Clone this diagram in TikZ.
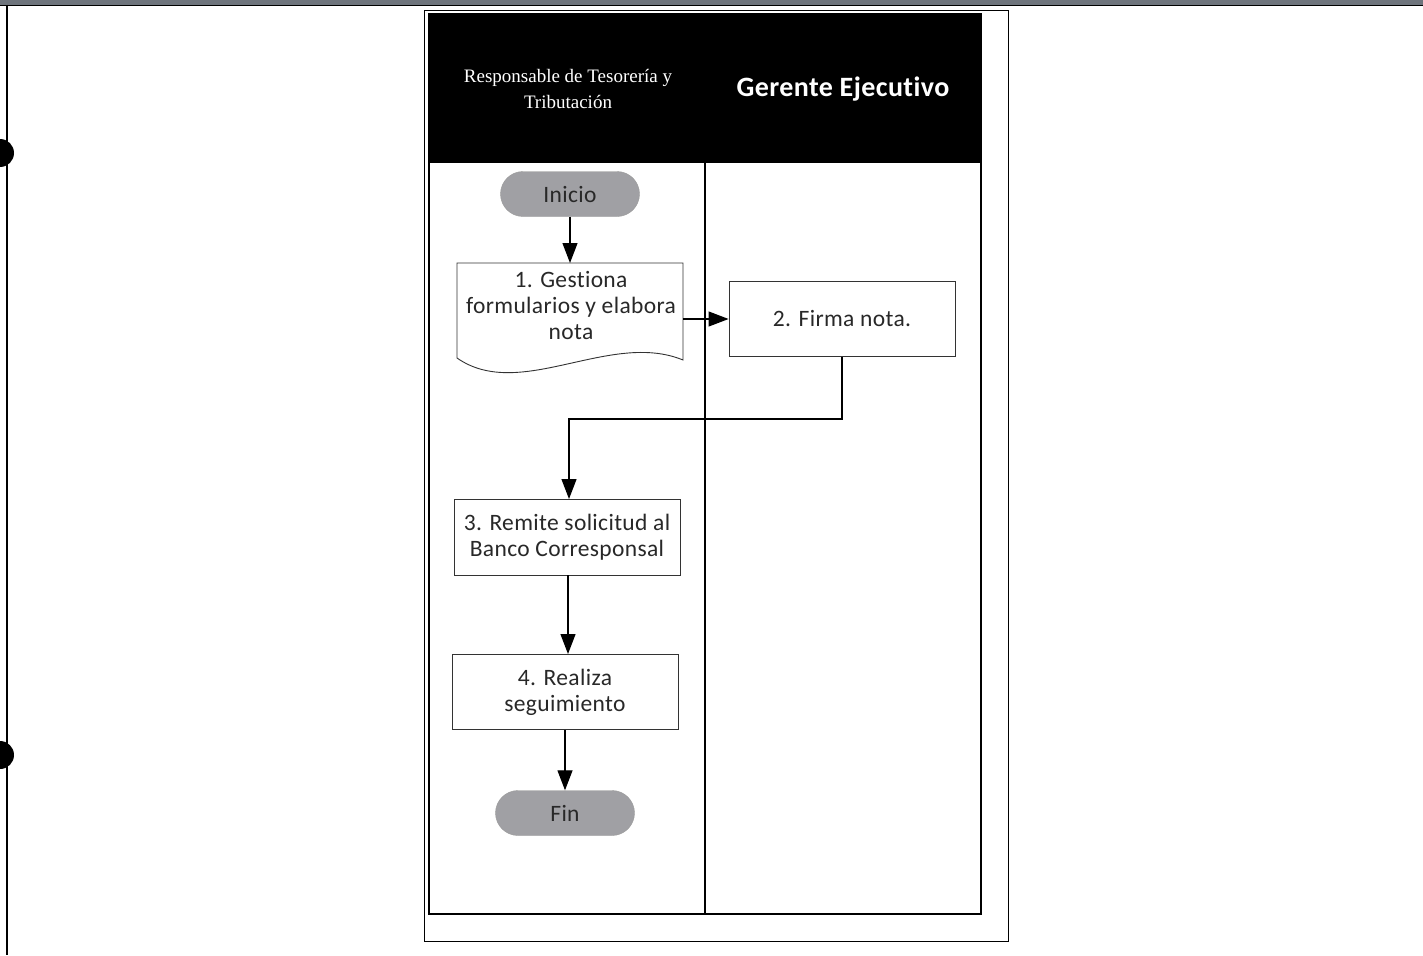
\documentclass[tikz,border=0pt]{standalone}
\usepackage{fontspec}
\setmainfont{Liberation Serif}
\newfontfamily\calib[Ligatures=NoCommon,LetterSpace=1.5]{Carlito}
\usetikzlibrary{arrows.meta,shapes.misc}
\definecolor{termgray}{RGB}{160,160,164}
\definecolor{bandgray}{RGB}{110,116,124}
\definecolor{inkgray}{RGB}{40,40,40}
\begin{document}
\begin{tikzpicture}[x=1pt,y=-1pt,
  proc/.style={draw=black!80,line width=0.9pt,fill=white,minimum width=226pt,minimum height=75pt,
    align=center,text=inkgray,font=\calib\fontsize{23.5}{26}\selectfont,inner sep=2pt},
  term/.style={rounded rectangle,draw=black!40,fill=termgray,minimum width=139pt,minimum height=45pt,
    text=inkgray,font=\calib\fontsize{23.5}{26}\selectfont,inner sep=0pt},
  flow/.style={line width=1.2pt,-{Triangle[length=20pt,width=15pt]}},
  frame/.style={draw=black,line width=1.1pt}]
\useasboundingbox (0,0) rectangle (1423,955);
\fill[white] (0,0) rectangle (1423,955);
% page header band and left margin rule
\fill[bandgray] (0,0) rectangle (1423,5);
\draw[line width=1.5pt] (0,5.5) -- (1423,5.5);
\draw[line width=1.5pt] (7,5) -- (7,955);
% punch holes
\fill (0,153) circle (14);
\fill (0,755) circle (14);
% outer and inner frames
\draw[frame,line width=0.9pt] (424,10) rectangle (1008,941);
\fill[black] (429,14) rectangle (981,163);
\draw[frame,line width=1.4pt] (429,14) rectangle (981,914);
\draw[line width=1.1pt] (705,163) -- (705,914);
% lane headers
\node[text=white,align=center,font=\fontsize{19}{26}\selectfont] (h1) at (568,89)
  {Responsable de Tesorería y\\Tributación};
\node[text=white,font=\calib\bfseries\fontsize{28}{30}\selectfont] (h2) at (843,89) {Gerente Ejecutivo};
% flow nodes
\node[term] (ini) at (570,194) {Inicio};
\node[align=center,text=inkgray,font=\calib\fontsize{23.5}{26}\selectfont,minimum width=226pt,minimum height=95pt,
  inner sep=0pt] (n1) at (571,305) {1. Gestiona\\formularios y elabora\\nota};
\draw[draw=black!80,line width=0.9pt]
  (457,263) -- (683,263) -- (683,360)
  .. controls (610,330) and (520,402) .. (457,358) -- cycle;
\node[proc] (n2) at (842,319) {2. Firma nota.};
\node[proc,minimum height=76pt] (n3) at (567,537) {3. Remite solicitud al\\Banco Corresponsal};
\node[proc] (n4) at (565,692) {4. Realiza\\seguimiento};
\node[term] (fin) at (565,813) {Fin};
% connectors
\coordinate (t1) at (570,263);
\coordinate (s1) at (683,319);
\draw[flow] (ini) -- (t1);
\draw[flow] (s1) -- (n2.west);
\draw[flow] (n2.south) |- (569,419) -- (569,499);
\draw[flow] (n3.south -| 568,0) -- (568,654);
\draw[flow] (n4.south) -- (fin.north);
\end{tikzpicture}
\end{document}
